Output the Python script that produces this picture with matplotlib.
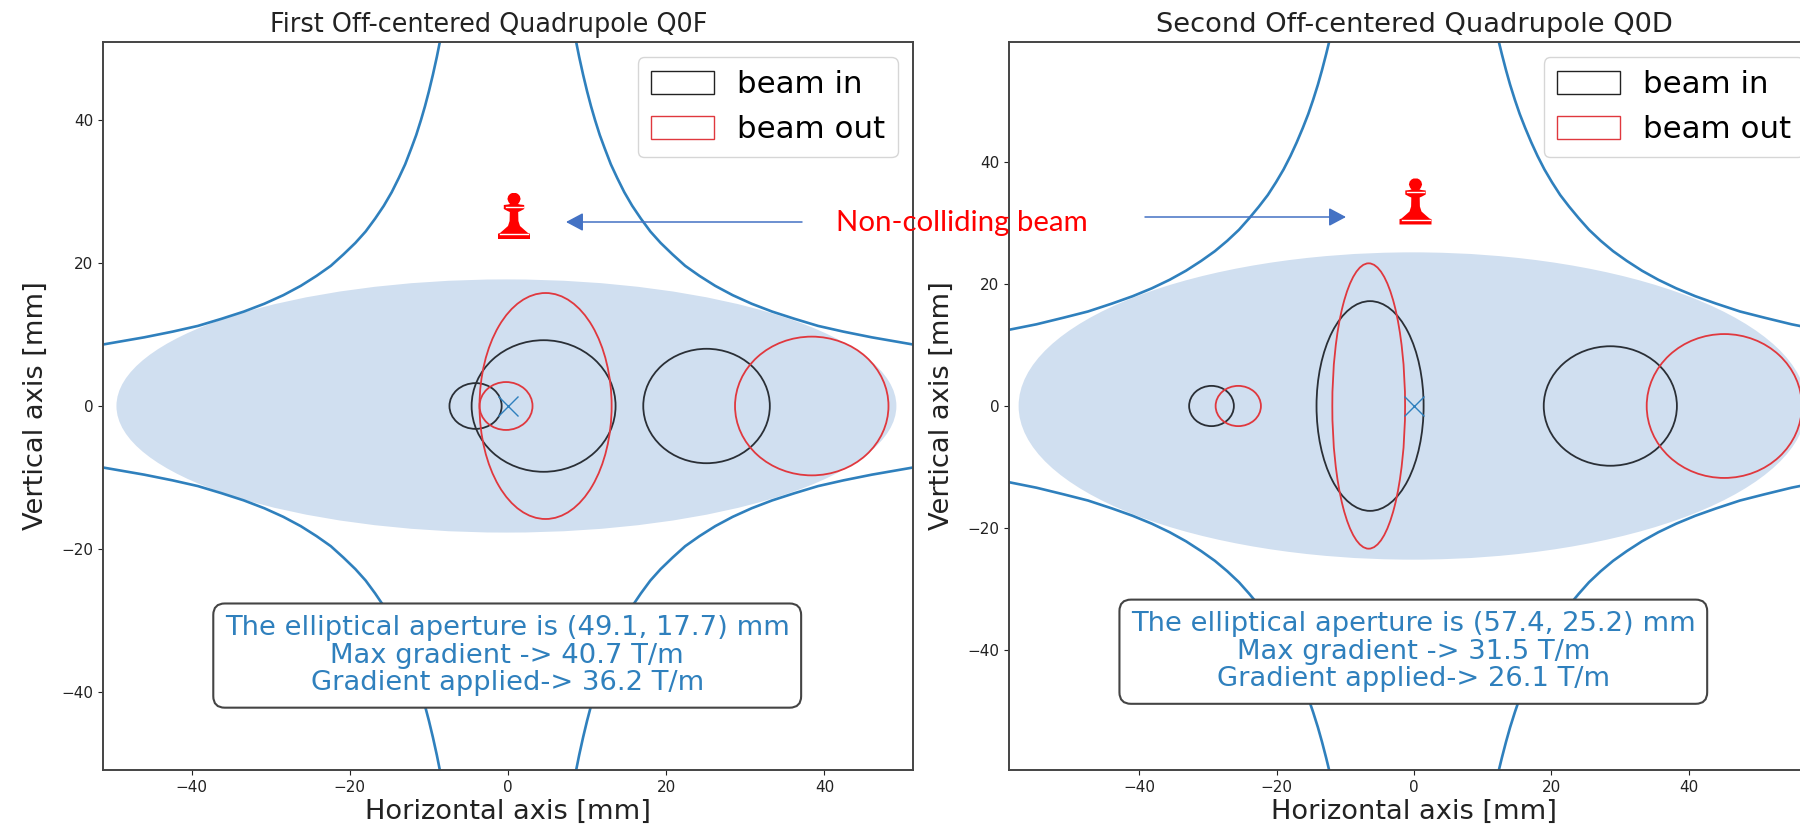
import numpy as np
import matplotlib
matplotlib.use("Agg")
import matplotlib.pyplot as plt
from matplotlib.patches import Ellipse, Patch, FancyArrowPatch, Polygon

W, H = 1800, 832
TITLE_L = "First Off-centered Quadrupole Q0F"
TITLE_R = "Second Off-centered Quadrupole Q0D"
XLIM_L, YLIM_L = 51.2, 50.9
XLIM_R, YLIM_R = 59.0, 59.7

# aperture curve, one quadrant (mm)
CURVE_L_X = [8.6, 9.0, 9.5, 10.0, 10.5, 11.0, 11.6, 12.2, 13.0, 13.8, 14.7, 15.7, 16.8, 18.0, 19.3, 20.8, 22.4, 24.2,
             26.2, 28.4, 30.8, 33.4, 36.2, 39.2, 42.4, 46.0, 51.2]
CURVE_L_Y = [51.0, 48.8, 46.3, 44.0, 41.9, 40.0, 37.9, 36.1, 33.8, 31.9, 29.9, 28.0, 26.2, 24.4, 22.8, 21.2, 19.6, 18.2,
             16.8, 15.5, 14.3, 13.2, 12.2, 11.2, 10.4, 9.6, 8.6]
CURVE_R_X = [12.3, 12.8, 13.4, 14.0, 14.7, 15.4, 16.2, 17.1, 18.0, 19.0, 20.1, 21.3, 22.6, 24.0, 25.5, 27.2, 29.0, 31.0,
             33.2, 35.6, 38.2, 41.0, 44.0, 47.5, 51.0, 55.0, 59.0]
CURVE_R_Y = [60.0, 57.7, 55.1, 52.7, 50.2, 47.9, 45.6, 43.2, 41.0, 38.8, 36.7, 34.6, 32.7, 30.8, 28.9, 27.1, 25.4, 23.8,
             22.2, 20.7, 19.3, 18.0, 16.8, 15.5, 14.5, 13.4, 12.5]

# elliptical aperture half-axes (mm)
APERTURE_L = (49.3, 17.7)
APERTURE_R = (57.4, 25.2)

# beam ellipses: centre x, half-width, half-height (mm)
IN_L_X, IN_L_A, IN_L_B = [-4.1, 4.5, 25.1], [3.3, 9.1, 8.0], [3.2, 9.2, 8.0]
OUT_L_X, OUT_L_A, OUT_L_B = [-0.25, 4.75, 38.4], [3.35, 8.35, 9.7], [3.35, 15.8, 9.7]
IN_R_X, IN_R_A, IN_R_B = [-29.5, -6.4, 28.6], [3.26, 7.8, 9.7], [3.3, 17.2, 9.8]
OUT_R_X, OUT_R_A, OUT_R_B = [-25.6, -6.6, 45.2], [3.3, 5.3, 11.3], [3.3, 23.4, 11.8]

TEXT_L = "The elliptical aperture is (49.1, 17.7) mm\nMax gradient -> 40.7 T/m\nGradient applied-> 36.2 T/m"
TEXT_R = "The elliptical aperture is (57.4, 25.2) mm\nMax gradient -> 31.5 T/m\nGradient applied-> 26.1 T/m"

BLUE = "#2f80bd"
FILL = "#d0dff0"
DARK = "#444444"
RED = "#e0383e"
ARROW = "#4472c4"

fig = plt.figure(figsize=(W / 100, H / 100), dpi=100, facecolor="white")


def px_axes(x0, x1, y0, y1):
    return fig.add_axes([x0 / W, 1 - y1 / H, (x1 - x0) / W, (y1 - y0) / H])


def panel(ax, title, title_x, title_fs, xl, yl, cx, cy, aperture, inn, out, box, box_y):
    ax.set_xlim(-xl, xl)
    ax.set_ylim(-yl, yl)
    ax.add_patch(Ellipse((-0.2, 0), 2 * aperture[0], 2 * aperture[1], fc=FILL, ec="none", zorder=1))
    cx, cy = np.array(cx), np.array(cy)
    for sx in (-1, 1):
        for sy in (-1, 1):
            ax.plot(sx * cx, sy * cy, color=BLUE, lw=1.9, zorder=2)
    for (xs, aa, bb), col in ((inn, "#2a2f36"), (out, RED)):
        for x, a, b in zip(xs, aa, bb):
            ax.add_patch(Ellipse((x, 0), 2 * a, 2 * b, fc="none", ec=col, lw=1.3, zorder=3))
    ax.plot([0], [0], marker="x", ms=14.5, mew=1.0, color=BLUE, ls="none", zorder=4)
    ax.set_title(title, x=title_x, fontsize=title_fs, color="#222222", pad=7)
    ax.set_xlabel("Horizontal axis [mm]", fontsize=19.6, color="#222222", labelpad=3)
    ax.set_ylabel("Vertical axis [mm]", fontsize=19.6, color="#222222", labelpad=9)
    ax.set_xticks([-40, -20, 0, 20, 40])
    ax.set_yticks([-40, -20, 0, 20, 40])
    ax.tick_params(labelsize=11, colors="#222222", length=3.5, width=0.8)
    for s in ax.spines.values():
        s.set_color(DARK)
        s.set_linewidth(1.4)
    ax.text(-0.1, box_y, box, ha="center", va="center", fontsize=19.7, color=BLUE, linespacing=1.08,
            zorder=6, bbox=dict(boxstyle="round,pad=0.42", fc="white", ec=DARK, lw=1.5))
    handles = [Patch(fc="none", ec="#222222", label="beam in"), Patch(fc="none", ec=RED, label="beam out")]
    ax.legend(handles=handles, loc="upper right", fontsize=22.2, handlelength=2.05, handleheight=0.78,
              labelspacing=0.52, handletextpad=0.72, borderpad=0.42, borderaxespad=0.5)


ax1 = px_axes(103, 913, 42, 770)
ax2 = px_axes(1009, 1819, 42, 770)
panel(ax1, TITLE_L, 0.4765, 18.4, XLIM_L, YLIM_L, CURVE_L_X, CURVE_L_Y, APERTURE_L,
      (IN_L_X, IN_L_A, IN_L_B), (OUT_L_X, OUT_L_A, OUT_L_B), TEXT_L, -34.9)
panel(ax2, TITLE_R, 0.5, 19.6, XLIM_R, YLIM_R, CURVE_R_X, CURVE_R_Y, APERTURE_R,
      (IN_R_X, IN_R_A, IN_R_B), (OUT_R_X, OUT_R_A, OUT_R_B), TEXT_R, -40.3)


def fx(x):
    return x / W


def fy(y):
    return 1 - y / H


fig.text(fx(962), fy(223), "Non-colliding beam", color="#ff0000", fontsize=21.2, family="Lato",
         ha="center", va="center")

# pawn icon outline: half-width against distance from its top, in icon pixels
PAWN_Y = [0, 1, 3, 6, 9, 11, 11.5, 12, 16, 18, 19, 28, 33, 37, 40, 40.7, 46]
PAWN_HW = [2, 4, 5.8, 6.6, 5.5, 4, 6, 10.2, 10.2, 6.5, 4.2, 4.4, 6, 10.5, 14, 16, 16]


def pawn(cx, top):
    ys = np.array(PAWN_Y, float) + top
    hw = np.array(PAWN_HW, float)
    pts = [(fx(cx + w), fy(y)) for w, y in zip(hw, ys)] + [(fx(cx - w), fy(y)) for w, y in zip(hw[::-1], ys[::-1])]
    fig.add_artist(Polygon(pts, closed=True, fc="#ff0000", ec="none", transform=fig.transFigure))
    for y0, half in ((top + 13.5, 8.5), (top + 41, 14)):
        fig.add_artist(plt.Line2D([fx(cx - half), fx(cx + half)], [fy(y0), fy(y0)], color="white", lw=1.0,
                                  transform=fig.transFigure))


pawn(514, 193)
pawn(1415.5, 178.5)

for x0, x1, y in ((802, 566, 222), (1145, 1346, 217)):
    fig.add_artist(FancyArrowPatch((fx(x0), fy(y)), (fx(x1), fy(y)), transform=fig.transFigure,
                                   arrowstyle="-|>,head_length=0.75,head_width=0.4", mutation_scale=14,
                                   color=ARROW, lw=1.1, shrinkA=0, shrinkB=0))

fig.savefig("out.png", dpi=100)
